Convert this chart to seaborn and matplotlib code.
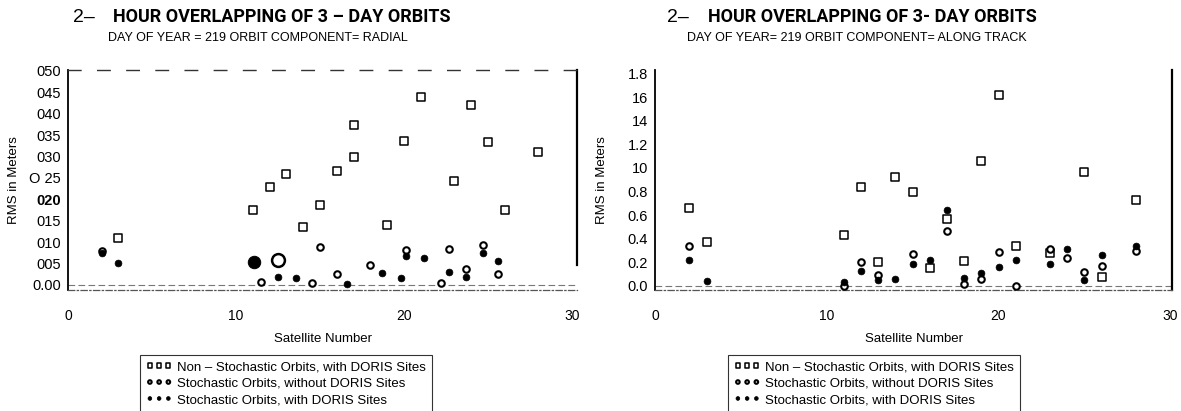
import matplotlib
matplotlib.use("Agg")
import matplotlib.pyplot as plt
import seaborn as sns

sns.set_theme(style="white")
plt.rcParams["font.family"] = ["Liberation Sans", "DejaVu Sans"]
for key in ["text.color", "axes.labelcolor", "xtick.color", "ytick.color"]:
    plt.rcParams[key] = "black"

W, H = 1181, 411

# ---- Radial component (left panel) ----
rad_nonstoch_sat = [3, 11, 12, 13, 14, 15, 16, 17, 17, 19, 20, 21, 23, 24, 25, 26, 28]
rad_nonstoch_rms = [0.0110, 0.0175, 0.0229, 0.0260, 0.0135, 0.0187, 0.0266, 0.0374,
                    0.0300, 0.0140, 0.0336, 0.0439, 0.0243, 0.0420, 0.0334, 0.0175, 0.0310]
rad_stoch_nosite_sat = [2, 11.5, 14.5, 15, 16, 18, 20.1, 22.2, 22.7, 23.7, 24.7, 25.6]
rad_stoch_nosite_rms = [0.0080, 0.0008, 0.0004, 0.0089, 0.0026, 0.0047, 0.0082,
                        0.0005, 0.0084, 0.0037, 0.0094, 0.0026]
rad_stoch_site_sat = [2, 3, 12.5, 13.6, 16.6, 18.7, 19.8, 20.1, 21.2, 22.7, 23.7, 24.7, 25.6]
rad_stoch_site_rms = [0.0075, 0.0051, 0.0019, 0.0016, 0.0003, 0.0028, 0.0016, 0.0068,
                      0.0063, 0.0030, 0.0019, 0.0075, 0.0056]
# two enlarged symbols near satellites 11-12
rad_big_site_sat, rad_big_site_rms = [11.1], [0.0054]
rad_big_nosite_sat, rad_big_nosite_rms = [12.5], [0.0059]

# ---- Along-track component (right panel) ----
at_nonstoch_sat = [2, 3, 11, 12, 13, 14, 15, 16, 17, 18, 19, 20, 21, 23, 25, 26, 28]
at_nonstoch_rms = [0.66, 0.37, 0.43, 0.84, 0.20, 0.92, 0.80, 0.15, 0.57, 0.21, 1.06,
                   1.62, 0.34, 0.28, 0.97, 0.08, 0.73]
at_stoch_nosite_sat = [2, 11, 12, 13, 15, 17, 18, 19, 20, 21, 23, 24, 25, 26, 28]
at_stoch_nosite_rms = [0.34, 0.00, 0.20, 0.09, 0.27, 0.47, 0.02, 0.06, 0.29, 0.00,
                       0.31, 0.24, 0.12, 0.17, 0.30]
at_stoch_site_sat = [2, 3, 11, 12, 13, 14, 15, 16, 17, 18, 19, 20, 21, 23, 24, 25, 26, 28]
at_stoch_site_rms = [0.22, 0.04, 0.03, 0.13, 0.05, 0.06, 0.19, 0.22, 0.64, 0.07, 0.11,
                     0.16, 0.22, 0.19, 0.31, 0.05, 0.26, 0.34]

# ---- Axis text ----
rad_yticks = [0.0, 0.005, 0.010, 0.015, 0.020, 0.025, 0.030, 0.035, 0.040, 0.045, 0.050]
rad_ytick_labels = ["0.00", "005", "010", "015", "020", "O 25", "030", "035", "040", "045", "050"]
at_yticks = [0.0, 0.2, 0.4, 0.6, 0.8, 1.0, 1.2, 1.4, 1.6, 1.8]
at_ytick_labels = ["0.0", "0.2", "0.4", "0.6", "0.8", "10", "1.2", "14", "16", "1.8"]
xticks = [0, 10, 20, 30]
legend_labels = ["Non \u2013 Stochastic Orbits, with DORIS Sites",
                 "Stochastic Orbits, without DORIS Sites",
                 "Stochastic Orbits, with DORIS Sites"]


def fx(px):
    return px / W


def fy(py):
    return 1 - py / H


fig = plt.figure(figsize=(W / 100, H / 100), dpi=100)
fig.patch.set_facecolor("white")

ax1 = fig.add_axes([fx(68), fy(290), (577 - 68) / W, 220 / H])
ax2 = fig.add_axes([fx(655), fy(290), (1172 - 655) / W, 220 / H])


def draw_series(ax, ns_x, ns_y, so_x, so_y, ss_x, ss_y):
    sns.scatterplot(x=ns_x, y=ns_y, ax=ax, marker="s", s=30, color="white",
                    edgecolor="black", linewidth=1.1, label=legend_labels[0], zorder=3)
    sns.scatterplot(x=so_x, y=so_y, ax=ax, marker="o", s=22, color="white",
                    edgecolor="black", linewidth=1.5, label=legend_labels[1], zorder=4)
    sns.scatterplot(x=ss_x, y=ss_y, ax=ax, marker="o", s=24, color="black",
                    edgecolor="black", linewidth=0.5, label=legend_labels[2], zorder=5)


draw_series(ax1, rad_nonstoch_sat, rad_nonstoch_rms, rad_stoch_nosite_sat,
            rad_stoch_nosite_rms, rad_stoch_site_sat, rad_stoch_site_rms)
sns.scatterplot(x=rad_big_site_sat, y=rad_big_site_rms, ax=ax1, marker="o", s=80,
                color="black", edgecolor="black", legend=False, zorder=5)
sns.scatterplot(x=rad_big_nosite_sat, y=rad_big_nosite_rms, ax=ax1, marker="o", s=85,
                color="white", edgecolor="black", linewidth=1.8, legend=False, zorder=5)

draw_series(ax2, at_nonstoch_sat, at_nonstoch_rms, at_stoch_nosite_sat,
            at_stoch_nosite_rms, at_stoch_site_sat, at_stoch_site_rms)

ax1.set_xlim(0, 30.3)
ax1.set_ylim(-0.00117, 0.0502)
ax2.set_xlim(0, 30.1)
ax2.set_ylim(-0.034, 1.83)

for ax, yt, ytl in [(ax1, rad_yticks, rad_ytick_labels), (ax2, at_yticks, at_ytick_labels)]:
    ax.set_facecolor("white")
    ax.set_xticks(xticks)
    ax.set_xticklabels([str(t) for t in xticks], fontsize=10)
    ax.set_yticks(yt)
    ax.set_yticklabels(ytl, fontsize=10.5)
    ax.tick_params(axis="x", length=0, pad=14)
    ax.tick_params(axis="y", length=3, width=0.8, direction="out", pad=2, color="black")
    ax.set_xlabel("Satellite Number", fontsize=9.5)
    ax.set_ylabel("RMS in Meters", fontsize=9.5)
    ax.xaxis.set_label_coords(0.5, -0.195)
    ax.grid(False)
    ax.axhline(0, color="#777777", lw=0.8, ls=(0, (6, 3)), zorder=1)
    ax.spines["left"].set_color("black")
    ax.spines["left"].set_linewidth(1.3)
    ax.spines["right"].set_color("black")
    ax.spines["right"].set_linewidth(1.6)
    ax.spines["bottom"].set_color("#555555")
    ax.spines["bottom"].set_linewidth(0.9)
    ax.spines["bottom"].set_linestyle((0, (5, 2, 1, 2)))
    ax.get_legend().remove()

ax1.yaxis.set_label_coords(-0.095, 0.5)
ax2.yaxis.set_label_coords(-0.091, 0.5)
ax1.get_yticklabels()[4].set_fontweight("bold")

ax1.spines["top"].set_color("#333333")
ax1.spines["top"].set_linewidth(1.0)
ax1.spines["top"].set_linestyle((0, (9, 12)))
ax1.spines["right"].set_bounds(0.0047, 0.0502)
ax2.spines["top"].set_visible(False)

# legends below each panel, three symbols per entry
for ax, left_px in [(ax1, 140), (ax2, 728)]:
    handles = ax.collections[:3]
    leg = ax.legend(handles, legend_labels, scatterpoints=3, scatteryoffsets=[0.5],
                    loc="upper left", bbox_to_anchor=(fx(left_px), fy(355)),
                    bbox_transform=fig.transFigure, frameon=True, fancybox=False,
                    edgecolor="black", fontsize=9.5, handlelength=2.0,
                    handletextpad=0.35, borderpad=0.45, labelspacing=0.32,
                    borderaxespad=0, markerscale=0.55)
    leg.get_frame().set_linewidth(0.8)

# headings
title_main = "HOUR OVERLAPPING OF 3 \u2013 DAY ORBITS"
title_main_r = "HOUR OVERLAPPING OF 3- DAY ORBITS"
narrow = ["Roboto", "Liberation Sans", "DejaVu Sans"]
fig.text(fx(73), fy(17), "2\u2013", fontsize=14, va="center", ha="left")
fig.text(fx(113), fy(17), title_main, fontsize=13, fontweight="bold", va="center",
         ha="left", family=narrow)
fig.text(fx(258), fy(38), "DAY OF YEAR = 219 ORBIT COMPONENT= RADIAL", fontsize=9,
         va="center", ha="center")
fig.text(fx(667), fy(17), "2\u2013", fontsize=14, va="center", ha="left")
fig.text(fx(708), fy(17), title_main_r, fontsize=13, fontweight="bold", va="center",
         ha="left", family=narrow)
fig.text(fx(857), fy(38), "DAY OF YEAR= 219 ORBIT COMPONENT= ALONG TRACK", fontsize=9,
         va="center", ha="center")

fig.savefig("out.png", dpi=100, facecolor="white")
